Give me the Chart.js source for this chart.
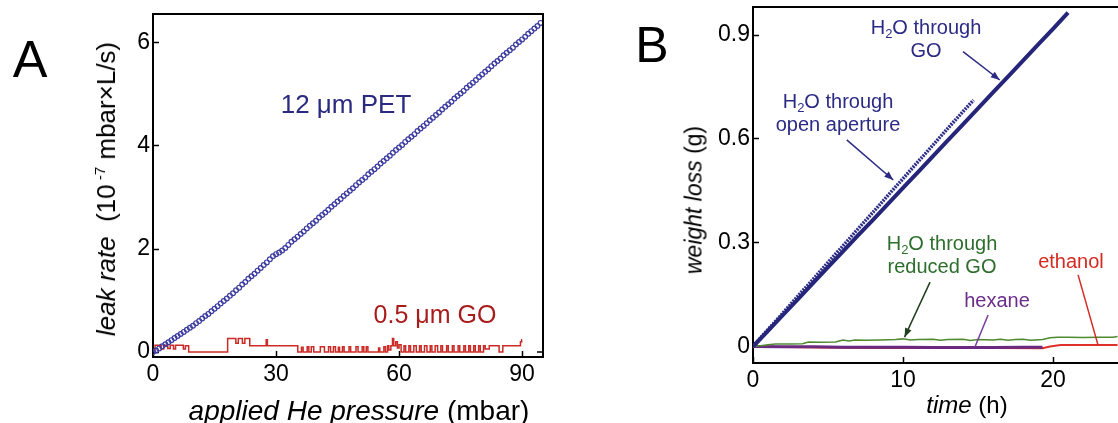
<!DOCTYPE html>
<html>
<head>
<meta charset="utf-8">
<script src="https://cdn.jsdelivr.net/npm/chart.js@4.4.1/dist/chart.umd.min.js"></script>
<style>
    body { margin: 0; background: #fff; font-family: "Liberation Sans", Arial, sans-serif; }
    #wrap { position: relative; width: 1118px; height: 423px; overflow: hidden; background: #fff; }
    canvas { position: absolute; top: 0; }
    .lbl { position: absolute; white-space: nowrap; transform: translate(-50%, -50%); line-height: 1; color: #000; }
    .vert { transform: translate(-50%, -50%) rotate(-90deg); }
    .note { font-size: 20px; text-align: center; line-height: 23px; }
    sub { font-size: 13px; vertical-align: -4px; line-height: 0; }
    sup { font-size: 15px; vertical-align: 10px; line-height: 0; }
</style>
</head>
<body>
<div id="wrap">
    <canvas id="chartA" width="560" height="423" style="left:0"></canvas>
    <canvas id="chartB" width="558" height="423" style="left:560px"></canvas>

    <div class="lbl" style="left:30px;top:59px;font-size:52px">A</div>
    <div class="lbl" style="left:652px;top:45px;font-size:50px">B</div>

    <div class="lbl vert" style="left:106px;top:189px;font-size:26px"><i>leak rate</i>&nbsp; (10<sup>&nbsp;-7</sup> mbar×L/s)</div>
    <div class="lbl" style="left:359px;top:411px;font-size:28px"><i>applied He pressure</i> (mbar)</div>
    <div class="lbl vert" style="left:694px;top:200px;font-size:23px"><i>weight loss</i> (g)</div>
    <div class="lbl" style="left:967px;top:405px;font-size:24px"><i>time</i> (h)</div>

    <div class="lbl" style="left:346px;top:104px;font-size:26px;color:#2a2a80">12 μm PET</div>
    <div class="lbl" style="left:435px;top:314px;font-size:25px;color:#a81c1c">0.5 μm GO</div>

    <div class="lbl note" style="left:926px;top:39px;color:#2b2b85">H<sub>2</sub>O through<br>GO</div>
    <div class="lbl note" style="left:838px;top:113px;color:#2b2b85">H<sub>2</sub>O through<br>open aperture</div>
    <div class="lbl note" style="left:942px;top:255px;color:#2d6e2d">H<sub>2</sub>O through<br>reduced GO</div>
    <div class="lbl note" style="left:997px;top:300px;color:#6b2c8a">hexane</div>
    <div class="lbl note" style="left:1071px;top:261px;color:#d42a22">ethanol</div>
</div>

<script>
// =============================
// DATA - panel A
// =============================
const xTicksA = [0, 30, 60, 90];
const yTicksA = [0, 2, 4, 6];

const pressure = [
    0, 0.75, 1.5, 2.25, 3, 3.75, 4.5, 5.25, 6, 6.75,
    7.5, 8.25, 9, 9.75, 10.5, 11.25, 12, 12.75, 13.5, 14.25,
    15, 15.75, 16.5, 17.25, 18, 18.75, 19.5, 20.25, 21, 21.75,
    22.5, 23.25, 24, 24.75, 25.5, 26.25, 27, 27.75, 28.5, 29.25,
    30, 30.75, 31.5, 32.25, 33, 33.75, 34.5, 35.25, 36, 36.75,
    37.5, 38.25, 39, 39.75, 40.5, 41.25, 42, 42.75, 43.5, 44.25,
    45, 45.75, 46.5, 47.25, 48, 48.75, 49.5, 50.25, 51, 51.75,
    52.5, 53.25, 54, 54.75, 55.5, 56.25, 57, 57.75, 58.5, 59.25,
    60, 60.75, 61.5, 62.25, 63, 63.75, 64.5, 65.25, 66, 66.75,
    67.5, 68.25, 69, 69.75, 70.5, 71.25, 72, 72.75, 73.5, 74.25,
    75, 75.75, 76.5, 77.25, 78, 78.75, 79.5, 80.25, 81, 81.75,
    82.5, 83.25, 84, 84.75, 85.5, 86.25, 87, 87.75, 88.5, 89.25,
    90, 90.75, 91.5, 92.25, 93, 93.75, 94.5
];
const petLeak = [
    0.00, 0.03, 0.07, 0.11, 0.15, 0.19, 0.23, 0.27, 0.31, 0.35,
    0.39, 0.43, 0.47, 0.51, 0.56, 0.60, 0.65, 0.70, 0.74, 0.79,
    0.84, 0.89, 0.94, 0.99, 1.04, 1.09, 1.14, 1.20, 1.25, 1.31,
    1.36, 1.42, 1.47, 1.52, 1.58, 1.63, 1.69, 1.74, 1.80, 1.86,
    1.90, 1.93, 1.97, 2.02, 2.08, 2.14, 2.19, 2.24, 2.29, 2.34,
    2.40, 2.45, 2.50, 2.55, 2.61, 2.66, 2.71, 2.76, 2.82, 2.87,
    2.92, 2.97, 3.03, 3.08, 3.13, 3.18, 3.24, 3.29, 3.34, 3.39,
    3.45, 3.50, 3.55, 3.60, 3.66, 3.71, 3.76, 3.81, 3.87, 3.92,
    3.97, 4.02, 4.08, 4.13, 4.18, 4.23, 4.29, 4.34, 4.39, 4.44,
    4.50, 4.55, 4.60, 4.65, 4.71, 4.76, 4.81, 4.86, 4.92, 4.97,
    5.02, 5.07, 5.13, 5.18, 5.23, 5.28, 5.34, 5.39, 5.44, 5.49,
    5.55, 5.60, 5.65, 5.70, 5.76, 5.81, 5.86, 5.91, 5.97, 6.02,
    6.07, 6.12, 6.18, 6.23, 6.28, 6.33, 6.39
];

// GO membrane: stepped readout (value holds from each x onward)
const goPressure = [
    0, 0.5, 2.0, 2.6, 3.6, 4.2, 5.0, 5.5, 7.4, 7.9, 8.7,
    18.2, 20.2, 20.8, 21.8, 22.4, 23.6, 27.6, 27.9, 35.3,
    36.2, 36.6, 37.6, 38.0, 38.6, 39.2, 40.8, 41.8, 42.8, 43.3,
    44.0, 44.5, 45.2, 45.5, 46.2, 46.6, 47.8, 48.2, 49.5, 50.0,
    51.0, 51.4, 52.0, 52.4, 55.0, 55.3, 56.3, 56.7, 57.2, 57.5,
    58.0, 58.4, 58.7, 59.2, 59.6, 60.0, 60.5,
    61.2, 61.6, 62.4, 62.8, 63.6, 64.2, 65.0, 65.4, 66.2, 66.8,
    67.6, 68.0, 68.8, 69.4, 70.2, 70.6, 71.6, 72.0, 73.0, 73.4,
    74.4, 74.8, 75.8, 76.2, 77.0, 77.4, 78.2, 78.6, 79.4, 79.8,
    80.6, 81.0, 82.0, 84.4, 85.3, 89.6, 89.9, 90.0
];
const goLeak = [
    0.04, 0.13, 0.06, 0.13, 0.07, 0.13, 0.06, 0.13, 0.06, 0.12, 0,
    0.26, 0.17, 0.26, 0.17, 0.26, 0.12, 0.24, 0.12, 0,
    0.09, 0, 0.10, 0, 0.10, 0, 0.10, 0, 0.10, 0,
    0.10, 0, 0.09, 0, 0.10, 0, 0.10, 0, 0.10, 0,
    0.10, 0, 0.10, 0, 0.08, 0, 0.10, 0, 0.12, 0.04,
    0.12, 0.26, 0.12, 0.20, 0.08, 0.14, 0,
    0.12, 0, 0.12, 0, 0.12, 0, 0.12, 0, 0.12, 0,
    0.12, 0, 0.12, 0, 0.12, 0, 0.12, 0, 0.12, 0,
    0.12, 0, 0.12, 0, 0.12, 0, 0.12, 0, 0.12, 0,
    0.12, 0.06, 0.12, 0, 0.12, 0.20, 0.24, 0.24
];

// =============================
// DATA - panel B
// =============================
const xTicksB = [0, 10, 20];
const yTicksB = [0, 0.3, 0.6, 0.9];

const timeGO = [0, 1, 2, 3, 4, 5, 6, 7, 8, 9, 10, 11, 12, 13, 14, 15, 16, 17, 18, 19, 20, 21];
const lossGO = [0, 0.045, 0.091, 0.137, 0.183, 0.229, 0.275, 0.321, 0.366, 0.412, 0.458,
    0.504, 0.550, 0.596, 0.642, 0.688, 0.734, 0.780, 0.826, 0.872, 0.918, 0.965];

const timeOpen = [0, 1, 2, 3, 4, 5, 6, 7, 8, 9, 10, 11, 12, 13, 14, 14.7];
const lossOpen = [0, 0.049, 0.097, 0.146, 0.194, 0.243, 0.291, 0.340, 0.388, 0.437, 0.485,
    0.534, 0.582, 0.631, 0.679, 0.712];

const timeRGO = [0, 0.5, 1, 1.5, 2.5, 3.3, 3.7, 4.5, 5.5, 6, 6.4, 6.8, 7.5, 8.5, 9.5, 10, 10.5, 11,
    12, 12.5, 13, 14, 14.5, 15, 16, 16.5, 17, 17.5, 18, 18.5, 19.3, 19.8, 20.3, 21, 22, 23, 24, 24.3];
const lossRGO = [0, 0.002, 0.005, 0.007, 0.007, 0.008, 0.013, 0.012, 0.013, 0.019, 0.016, 0.019,
    0.018, 0.019, 0.020, 0.022, 0.019, 0.020, 0.021, 0.018, 0.020, 0.021, 0.017, 0.020, 0.019,
    0.021, 0.018, 0.020, 0.021, 0.018, 0.020, 0.025, 0.027, 0.027, 0.026, 0.027, 0.027, 0.029];

const timeHex = [0, 2, 4, 6, 8, 10, 12, 14, 16, 18, 19.3];
const lossHex = [0, -0.001, -0.001, -0.002, -0.002, -0.002, -0.003, -0.003, -0.003, -0.002, -0.002];

const timeEth = [0, 4.3, 8, 12, 16, 19.3, 19.8, 20.5, 22, 24.3];
const lossEth = [0, -0.003, -0.004, -0.004, -0.004, -0.005, 0.000, 0.004, 0.004, 0.004];

// annotation arrows, in data units of panel B
const arrowsB = [
    { from: [14.0, 0.852], to: [16.45, 0.770], color: "#2b2b85", head: true },
    { from: [6.25, 0.597], to: [9.35, 0.481], color: "#2b2b85", head: true },
    { from: [11.8, 0.186], to: [10.1, 0.027], color: "#1f3f1f", head: true },
    { from: [15.67, 0.091], to: [14.8, -0.001], color: "#7b3aa0", head: false },
    { from: [21.67, 0.207], to: [23.0, 0.004], color: "#d42a22", head: false }
];

// =============================
// HELPERS
// =============================
const FONT = "'Liberation Sans', Arial, sans-serif";

function toPoints(xs, ys) {
    return xs.map((x, i) => ({ x: x, y: ys[i] }));
}

function axisOpts(min, max, tickList, fitSize, horizontal, pad) {
    return {
        type: "linear",
        min: min,
        max: max,
        afterBuildTicks: s => { s.ticks = tickList.map(v => ({ value: v })); },
        afterFit: s => {
            if (horizontal) s.height = fitSize;
            else s.width = fitSize;
            // keep the plot box exactly where the layout padding puts it
            s.paddingTop = 0;
            s.paddingBottom = 0;
            s.paddingLeft = 0;
            s.paddingRight = 0;
        },
        border: { display: true, color: "#000", width: 2 },
        grid: { drawOnChartArea: false, drawTicks: true, tickLength: -6, tickColor: "#000", tickWidth: 1.5 },
        ticks: {
            color: "#000",
            padding: pad,
            maxRotation: 0,
            autoSkip: false,
            font: { family: FONT, size: 23 },
            callback: v => String(v)
        }
    };
}

// frame: top line, optional right line and right tick at zero
const framePlugin = {
    id: "frame",
    afterDraw(chart, args, opts) {
        const { ctx, chartArea } = chart;
        ctx.save();
        ctx.strokeStyle = "#000";
        ctx.lineWidth = 2;
        ctx.beginPath();
        ctx.moveTo(chartArea.left - 1, chartArea.top);
        ctx.lineTo(chartArea.right + (opts.right ? 1 : 0), chartArea.top);
        if (opts.right) {
            ctx.moveTo(chartArea.right, chartArea.top);
            ctx.lineTo(chartArea.right, chartArea.bottom + 1);
        }
        ctx.stroke();
        if (opts.right) {
            const y0 = chart.scales.y.getPixelForValue(0);
            ctx.lineWidth = 1.5;
            ctx.beginPath();
            ctx.moveTo(chartArea.right, y0);
            ctx.lineTo(chartArea.right - 6, y0);
            ctx.stroke();
        }
        ctx.restore();
    }
};

const arrowPlugin = {
    id: "arrows",
    afterDatasetsDraw(chart, args, opts) {
        if (!opts.list) return;
        const { ctx, scales } = chart;
        ctx.save();
        opts.list.forEach(a => {
            const x1 = scales.x.getPixelForValue(a.from[0]);
            const y1 = scales.y.getPixelForValue(a.from[1]);
            const x2 = scales.x.getPixelForValue(a.to[0]);
            const y2 = scales.y.getPixelForValue(a.to[1]);
            ctx.strokeStyle = a.color;
            ctx.fillStyle = a.color;
            ctx.lineWidth = 1.5;
            ctx.beginPath();
            ctx.moveTo(x1, y1);
            ctx.lineTo(x2, y2);
            ctx.stroke();
            if (a.head) {
                const ang = Math.atan2(y2 - y1, x2 - x1);
                const len = 9, half = 3.5;
                ctx.beginPath();
                ctx.moveTo(x2, y2);
                ctx.lineTo(x2 - len * Math.cos(ang) + half * Math.sin(ang), y2 - len * Math.sin(ang) - half * Math.cos(ang));
                ctx.lineTo(x2 - len * Math.cos(ang) - half * Math.sin(ang), y2 - len * Math.sin(ang) + half * Math.cos(ang));
                ctx.closePath();
                ctx.fill();
            }
        });
        ctx.restore();
    }
};

const baseOptions = {
    responsive: false,
    animation: false,
    events: [],
    plugins: { legend: { display: false }, tooltip: { enabled: false } }
};

// =============================
// PANEL A
// =============================
new Chart(document.getElementById("chartA"), {
    type: "line",
    data: {
        datasets: [
            {
                label: "12 μm PET",
                data: toPoints(pressure, petLeak),
                showLine: false,
                pointRadius: 2.4,
                pointBorderWidth: 1.2,
                pointBorderColor: "#3c3ca0",
                pointBackgroundColor: "rgba(0,0,0,0)"
            },
            {
                label: "0.5 μm GO",
                data: toPoints(goPressure, goLeak),
                stepped: true,
                borderColor: "#cc2a26",
                borderWidth: 1.5,
                pointRadius: 0
            }
        ]
    },
    options: {
        ...baseOptions,
        layout: { padding: { left: 0, top: 14, right: 17, bottom: 0 } },
        scales: {
            x: axisOpts(0, 95.1, xTicksA, 66, true, 10),
            y: axisOpts(-0.097, 6.563, yTicksA, 153, false, 9)
        },
        plugins: { ...baseOptions.plugins, frame: { right: true } }
    },
    plugins: [framePlugin]
});

// =============================
// PANEL B
// =============================
new Chart(document.getElementById("chartB"), {
    type: "line",
    data: {
        datasets: [
            { label: "H2O through GO", data: toPoints(timeGO, lossGO), borderColor: "#25257a", borderWidth: 4, pointRadius: 0 },
            { label: "H2O through open aperture", data: toPoints(timeOpen, lossOpen), borderColor: "#2e2e88", borderWidth: 3.5, borderDash: [2, 1], pointRadius: 0 },
            { label: "H2O through reduced GO", data: toPoints(timeRGO, lossRGO), borderColor: "#4f8a2e", borderWidth: 1.5, pointRadius: 0 },
            { label: "hexane", data: toPoints(timeHex, lossHex), borderColor: "#6a2a80", borderWidth: 3, pointRadius: 0 },
            { label: "ethanol", data: toPoints(timeEth, lossEth), borderColor: "#e0302a", borderWidth: 2, pointRadius: 0 }
        ]
    },
    options: {
        ...baseOptions,
        layout: { padding: { left: 0, top: 7, right: 0, bottom: 0 } },
        scales: {
            x: axisOpts(0, 24.33, xTicksB, 60, true, 10),
            y: axisOpts(-0.0477, 0.981, yTicksB, 193, false, 9)
        },
        plugins: { ...baseOptions.plugins, frame: { right: false }, arrows: { list: arrowsB } }
    },
    plugins: [framePlugin, arrowPlugin]
});
</script>
</body>
</html>
